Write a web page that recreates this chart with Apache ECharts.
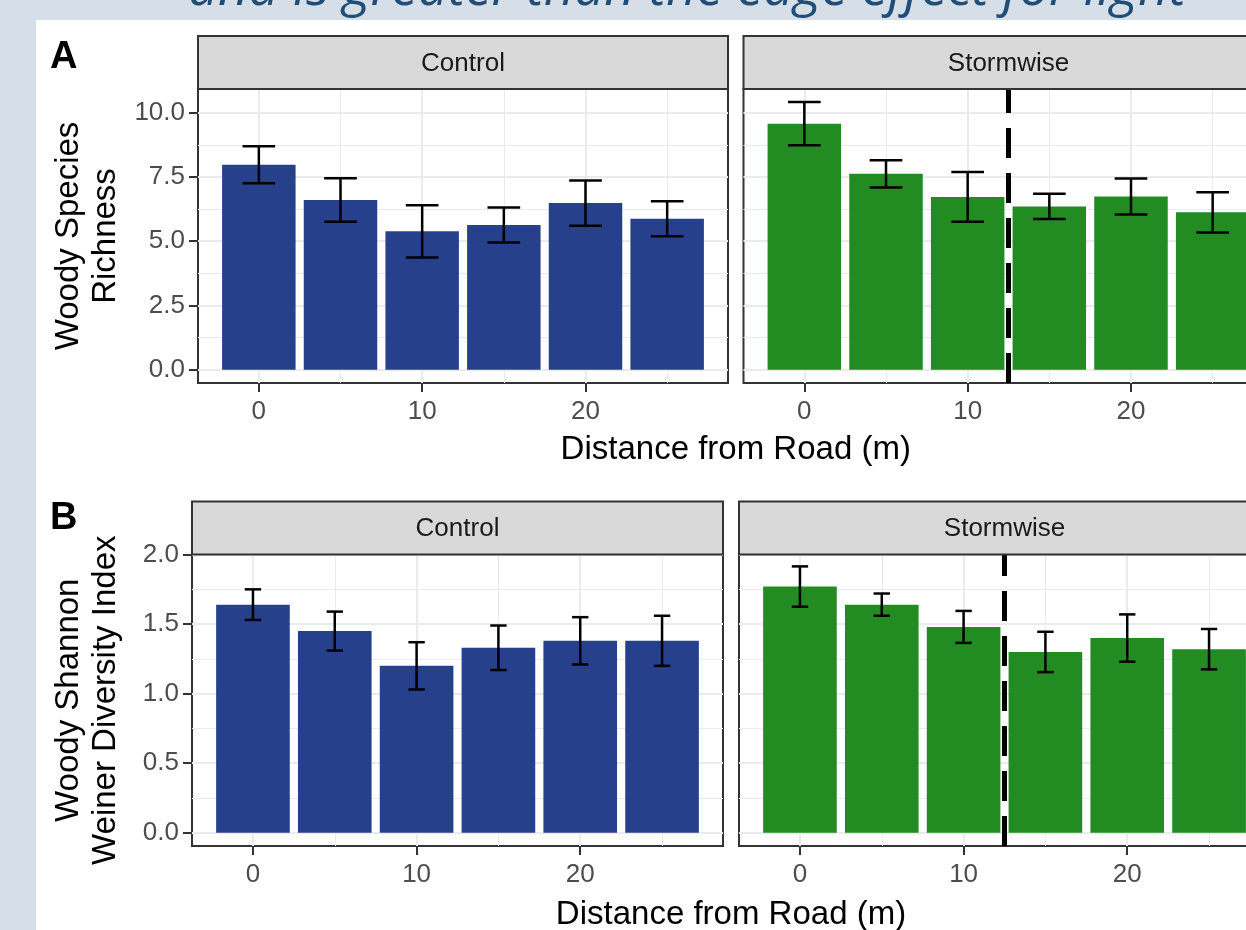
<!DOCTYPE html>
<html>
<head>
<meta charset="utf-8">
<script src="https://cdn.jsdelivr.net/npm/echarts@6/dist/echarts.min.js"></script>
<style>
  html, body { margin: 0; padding: 0; background: #ffffff; overflow: hidden; }
  #chart { width: 1290px; height: 930px; }
</style>
</head>
<body>
<div id="chart"></div>
<script>
// Distances of the sampling plots from the road edge (m)
const distances = [0, 5, 10, 15, 20, 25];
const treatments = ['Control', 'Stormwise'];

// A: woody species richness (mean and standard error)
const richnessControl     = [7.97, 6.60, 5.38, 5.63, 6.48, 5.87];
const richnessControlSE   = [0.72, 0.85, 1.02, 0.68, 0.88, 0.68];
const richnessStormwise   = [9.57, 7.62, 6.72, 6.35, 6.74, 6.12];
const richnessStormwiseSE = [0.84, 0.53, 0.97, 0.49, 0.70, 0.78];

// B: woody Shannon-Weiner diversity index (mean and standard error)
const diversityControl     = [1.64, 1.45, 1.20, 1.33, 1.38, 1.38];
const diversityControlSE   = [0.11, 0.14, 0.17, 0.16, 0.17, 0.18];
const diversityStormwise   = [1.77, 1.64, 1.48, 1.30, 1.40, 1.32];
const diversityStormwiseSE = [0.145, 0.08, 0.115, 0.145, 0.17, 0.145];

// Tick values
const xTicks = [0, 10, 20];
const xMinorTicks = [5, 15, 25];
const richnessTicks = [0, 2.5, 5, 7.5, 10];
const richnessMinorTicks = [1.25, 3.75, 6.25, 8.75];
const diversityTicks = [0, 0.5, 1.0, 1.5, 2.0];
const diversityMinorTicks = [0.25, 0.75, 1.25, 1.75];

// Edge of the Stormwise treatment zone (m)
const edgeThreshold = 12.5;

const BAR_WIDTH = 4.5;      // 0.9 of the 5 m spacing
const FONT = '"Liberation Sans", Arial, sans-serif';
const SLIDE_BG = '#d6dee8';
const BLUE = '#27408B';
const GREEN = '#228B22';

const xRange = [-3.725, 28.725];

const panels = [
  { row: 'A', treatment: treatments[0], values: richnessControl, se: richnessControlSE, color: BLUE,
    yRange: [-0.52, 10.92], ticks: richnessTicks, minor: richnessMinorTicks, cap: 2, first: true,
    box: { left: 198, top: 89, width: 530, height: 294 } },
  { row: 'A', treatment: treatments[1], values: richnessStormwise, se: richnessStormwiseSE, color: GREEN,
    yRange: [-0.52, 10.92], ticks: richnessTicks, minor: richnessMinorTicks, cap: 2, first: false,
    box: { left: 743.5, top: 89, width: 530, height: 294 } },
  { row: 'B', treatment: treatments[0], values: diversityControl, se: diversityControlSE, color: BLUE,
    yRange: [-0.095, 2.0005], ticks: diversityTicks, minor: diversityMinorTicks, cap: 1, first: true,
    box: { left: 192, top: 554.5, width: 531, height: 291.5 } },
  { row: 'B', treatment: treatments[1], values: diversityStormwise, se: diversityStormwiseSE, color: GREEN,
    yRange: [-0.095, 2.0005], ticks: diversityTicks, minor: diversityMinorTicks, cap: 1, first: false,
    box: { left: 739, top: 554.5, width: 531, height: 291.5 } }
];

const STRIP_H = 53;

function renderBar(params, api) {
  const x = api.value(0), y = api.value(1);
  const a = api.coord([x - BAR_WIDTH / 2, y]);
  const b = api.coord([x + BAR_WIDTH / 2, 0]);
  return {
    type: 'rect',
    shape: { x: a[0], y: a[1], width: b[0] - a[0], height: b[1] - a[1] },
    style: { fill: api.visual('color') }
  };
}

function makeErrorRenderer(capWidth) {
  return function (params, api) {
    const x = api.value(0), m = api.value(1), s = api.value(2);
    const hi = api.coord([x, m + s]);
    const lo = api.coord([x, m - s]);
    const l = api.coord([x - capWidth / 2, m])[0];
    const r = api.coord([x + capWidth / 2, m])[0];
    const st = { stroke: '#000', lineWidth: 2.5 };
    return {
      type: 'group',
      children: [
        { type: 'line', shape: { x1: hi[0], y1: hi[1], x2: lo[0], y2: lo[1] }, style: st },
        { type: 'line', shape: { x1: l, y1: hi[1], x2: r, y2: hi[1] }, style: st },
        { type: 'line', shape: { x1: l, y1: lo[1], x2: r, y2: lo[1] }, style: st }
      ]
    };
  };
}

function renderThreshold(params, api) {
  const cs = params.coordSys;
  const x = api.coord([api.value(0), 0])[0];
  return {
    type: 'line',
    shape: { x1: x, y1: cs.y + cs.height, x2: x, y2: cs.y },
    style: { stroke: '#000', lineWidth: 5, lineDash: [30, 15] }
  };
}

const grids = [], xAxes = [], yAxes = [], series = [], graphics = [];

// slide background around the figure, with the slide heading above it
graphics.push({ type: 'rect', shape: { x: 0, y: 0, width: 1290, height: 20 }, style: { fill: SLIDE_BG }, z: 0 });
graphics.push({ type: 'rect', shape: { x: 0, y: 0, width: 36, height: 930 }, style: { fill: SLIDE_BG }, z: 0 });
graphics.push({ type: 'text', x: 687, y: -10, z: 1,
  style: { text: 'and is greater than the edge effect for light', font: 'italic 53px "Open Sans", sans-serif',
           fill: '#1f4e79', align: 'center', verticalAlign: 'middle', textAlign: 'center', textVerticalAlign: 'middle' } });

panels.forEach((p, i) => {
  const b = p.box;
  grids.push({ left: b.left, top: b.top, width: b.width, height: b.height, containLabel: false,
               outerBoundsMode: 'none',
               show: true, backgroundColor: '#ffffff', borderColor: '#333333', borderWidth: 2 });

  const fmtY = v => Number(v).toFixed(1);

  // major x axis with labels
  xAxes.push({ type: 'value', gridIndex: i, min: xRange[0], max: xRange[1],
    axisLine: { show: false, onZero: false },
    axisTick: { show: true, customValues: xTicks, length: 9, lineStyle: { color: '#333333', width: 2 } },
    axisLabel: { show: true, customValues: xTicks, fontSize: 26, color: '#4d4d4d', fontFamily: FONT, margin: 16 },
    splitLine: { show: true, lineStyle: { color: '#ebebeb', width: 2 } } });
  // minor x grid
  xAxes.push({ type: 'value', gridIndex: i, min: xRange[0], max: xRange[1],
    axisLine: { show: false, onZero: false }, axisLabel: { show: false },
    axisTick: { show: false, customValues: xMinorTicks },
    splitLine: { show: true, lineStyle: { color: '#ebebeb', width: 1 } } });

  // major y axis; only the left-hand panel of each row carries labels
  yAxes.push({ type: 'value', gridIndex: i, min: p.yRange[0], max: p.yRange[1],
    axisLine: { show: false, onZero: false },
    axisTick: { show: p.first, customValues: p.ticks, length: 9, lineStyle: { color: '#333333', width: 2 } },
    axisLabel: { show: p.first, customValues: p.ticks, formatter: fmtY, fontSize: 26, color: '#4d4d4d', fontFamily: FONT, margin: 13 },
    splitLine: { show: true, lineStyle: { color: '#ebebeb', width: 2 } } });
  yAxes.push({ type: 'value', gridIndex: i, min: p.yRange[0], max: p.yRange[1],
    axisLine: { show: false, onZero: false }, axisLabel: { show: false },
    axisTick: { show: false, customValues: p.minor },
    splitLine: { show: true, lineStyle: { color: '#ebebeb', width: 1 } } });

  const data = distances.map((d, k) => [d, p.values[k], p.se[k]]);
  series.push({ type: 'custom', name: p.row + ' ' + p.treatment, xAxisIndex: 2 * i, yAxisIndex: 2 * i,
    color: p.color, renderItem: renderBar, data: data, encode: { x: 0, y: 1 }, silent: true, z: 2 });
  series.push({ type: 'custom', name: p.row + ' ' + p.treatment + ' SE', xAxisIndex: 2 * i, yAxisIndex: 2 * i,
    renderItem: makeErrorRenderer(p.cap), data: data, encode: { x: 0, y: 1 }, silent: true, z: 3 });
  if (p.treatment === 'Stormwise') {
    series.push({ type: 'custom', name: p.row + ' edge', xAxisIndex: 2 * i, yAxisIndex: 2 * i,
      renderItem: renderThreshold, data: [[edgeThreshold, 0]], encode: { x: 0, y: 1 }, silent: true, z: 4 });
  }

  // facet strip
  graphics.push({ type: 'rect', z: 5,
    shape: { x: b.left, y: b.top - STRIP_H, width: b.width, height: STRIP_H },
    style: { fill: '#d9d9d9', stroke: '#333333', lineWidth: 2 } });
  graphics.push({ type: 'text', z: 6, x: b.left + b.width / 2, y: b.top - STRIP_H / 2 + 1,
    style: { text: p.treatment, font: '26px ' + FONT, fill: '#1a1a1a',
             align: 'center', verticalAlign: 'middle', textAlign: 'center', textVerticalAlign: 'middle' } });
});

// row labels and axis titles
const rowInfo = [
  { label: 'A', labelY: 58, yTitle: 'Woody Species\nRichness', centerY: 89 + 294 / 2,
    xTitleX: (198 + 1273.5) / 2, xTitleY: 450 },
  { label: 'B', labelY: 519, yTitle: 'Woody Shannon\nWeiner Diversity Index', centerY: 554.5 + 291.5 / 2,
    xTitleX: (192 + 1270) / 2, xTitleY: 915 }
];
rowInfo.forEach(r => {
  graphics.push({ type: 'text', z: 6, x: 50, y: r.labelY,
    style: { text: r.label, font: 'bold 38px ' + FONT, fill: '#000', align: 'left', verticalAlign: 'middle',
             textAlign: 'left', textVerticalAlign: 'middle' } });
  graphics.push({ type: 'text', z: 6, x: 87, y: r.centerY, rotation: Math.PI / 2,
    style: { text: r.yTitle, font: '33px ' + FONT, fill: '#000', align: 'center', verticalAlign: 'middle',
             textAlign: 'center', textVerticalAlign: 'middle', lineHeight: 37 } });
  graphics.push({ type: 'text', z: 6, x: r.xTitleX, y: r.xTitleY,
    style: { text: 'Distance from Road (m)', font: '33px ' + FONT, fill: '#000', align: 'center', verticalAlign: 'middle',
             textAlign: 'center', textVerticalAlign: 'middle' } });
});

const chart = echarts.init(document.getElementById('chart'), null, { renderer: 'canvas' });
chart.setOption({
  backgroundColor: '#ffffff',
  animation: false,
  grid: grids,
  xAxis: xAxes,
  yAxis: yAxes,
  series: series,
  graphic: { elements: graphics }
});
</script>
</body>
</html>
